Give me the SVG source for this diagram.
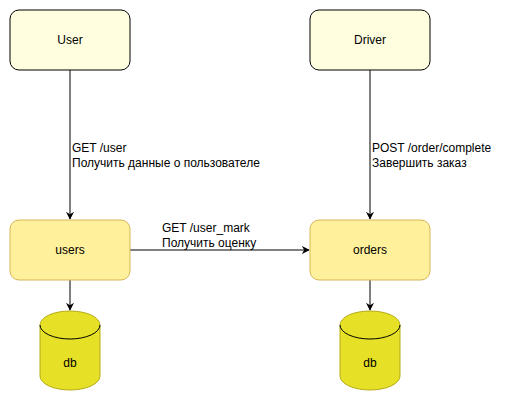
<svg xmlns="http://www.w3.org/2000/svg" width="521" height="401" viewBox="0 0 521 401">
<style>
text{font-family:"Liberation Sans",Arial,sans-serif;font-size:12px;fill:#000}
.c{text-anchor:middle;dominant-baseline:central}
.actor{fill:#ffffe0;stroke:#000;stroke-width:1}
.svc{fill:#fff09c;stroke:#d6b656;stroke-width:1}
.db{fill:#e6e026;stroke:#b5ab1a;stroke-width:1}
.edge{fill:none;stroke:#000;stroke-width:1}
</style>
<defs>
<marker id="arr" viewBox="0 0 10 10" refX="9" refY="5" markerWidth="8" markerHeight="8" orient="auto" markerUnits="userSpaceOnUse">
<path d="M0,0 L10,5 L0,10 L3,5 Z" fill="#000"/>
</marker>
</defs>
<rect width="521" height="401" fill="#fff"/>
<g id="connectors">
<line class="edge" x1="70" y1="70" x2="70" y2="219" marker-end="url(#arr)"/>
<line class="edge" x1="370" y1="70" x2="370" y2="219" marker-end="url(#arr)"/>
<line class="edge" x1="130" y1="250" x2="309" y2="250" marker-end="url(#arr)"/>
<line class="edge" x1="70" y1="280" x2="70" y2="310" marker-end="url(#arr)"/>
<line class="edge" x1="370" y1="280" x2="370" y2="310" marker-end="url(#arr)"/>
<text x="72" y="152">GET /user</text>
<text x="72" y="167">Получить данные о пользователе</text>
<text x="372" y="152">POST /order/complete</text>
<text x="372" y="167">Завершить заказ</text>
<text x="162" y="232">GET /user_mark</text>
<text x="162" y="247">Получить оценку</text>
</g>
<g id="User">
<rect class="actor" x="10" y="10" width="120" height="60" rx="9"/>
<text class="c" x="70" y="40">User</text>
</g>
<g id="Driver">
<rect class="actor" x="310" y="10" width="120" height="60" rx="9"/>
<text class="c" x="370" y="40">Driver</text>
</g>
<g id="users">
<rect class="svc" x="10" y="220" width="120" height="60" rx="9"/>
<text class="c" x="70" y="250">users</text>
</g>
<g id="orders">
<rect class="svc" x="310" y="220" width="120" height="60" rx="9"/>
<text class="c" x="370" y="250">orders</text>
</g>
<g id="db1">
<path class="db" d="M40,325 A30,14 0 0 1 100,325 L100,376 A30,14 0 0 1 40,376 Z"/>
<path class="edge" d="M40,325 A30,14 0 0 0 100,325" stroke="#b5ab1a"/>
<text class="c" x="70" y="363">db</text>
</g>
<g id="db2">
<path class="db" d="M340,325 A30,14 0 0 1 400,325 L400,376 A30,14 0 0 1 340,376 Z"/>
<path class="edge" d="M340,325 A30,14 0 0 0 400,325" stroke="#b5ab1a"/>
<text class="c" x="370" y="363">db</text>
</g>
</svg>
